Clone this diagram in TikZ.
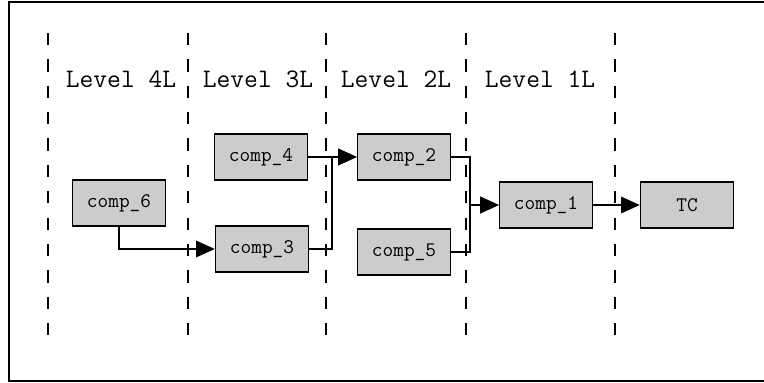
\documentclass[tikz,border=0pt]{standalone}
\usetikzlibrary{arrows.meta}

\begin{document}
\begin{tikzpicture}[
  comp/.style={draw, line width=0.9pt, fill=black!20, minimum width=1.86cm,
    minimum height=0.92cm, inner sep=0pt, font=\ttfamily\fontsize{11.8}{13}\selectfont},
  lvl/.style={font=\ttfamily\fontsize{15.2}{17}\selectfont},
  sep/.style={dashed, line width=0.9pt, dash pattern=on 7pt off 8pt},
  arr/.style={line width=0.8pt, -{Triangle[length=0.37cm,width=0.33cm]}}]
\useasboundingbox (0,0) rectangle (15.28,7.66);

% frame, open on the right
\draw[line width=0.75pt] (15.28,7.62) -- (0.18,7.62) -- (0.18,0.04) -- (15.28,0.04);

% level separators
\foreach \x in {0.96,3.76,6.52,9.32,12.30}
  \draw[sep] (\x,7.0) -- (\x,0.70);

\node[lvl] (l4) at (2.42,6.08) {Level 4L};
\node[lvl] (l3) at (5.16,6.08) {Level 3L};
\node[lvl] (l2) at (7.92,6.08) {Level 2L};
\node[lvl] (l1) at (10.80,6.08) {Level 1L};

% components
\node[comp] (c6) at (2.38,3.60) {comp\_6};
\node[comp] (c4) at (5.22,4.52) {comp\_4};
\node[comp] (c3) at (5.24,2.68) {comp\_3};
\node[comp] (c2) at (8.08,4.52) {comp\_2};
\node[comp] (c5) at (8.08,2.62) {comp\_5};
\node[comp] (c1) at (10.92,3.56) {comp\_1};
\node[comp] (tc) at (13.74,3.56) {TC};

\coordinate (j1) at (6.64,4.52);
\coordinate (j2) at (9.40,3.56);

\draw[arr] (c6.south) |- (c3.west);
\draw[arr] (c4.east) -- (c2.west);
\draw[arr] (c3.east) -| (j1) -- (c2.west);
\draw[arr] (c2.east) -| (j2) -- (c1.west);
\draw[arr] (c5.east) -| (j2) -- (c1.west);
\draw[arr] (c1.east) -- (tc.west);
\end{tikzpicture}
\end{document}
